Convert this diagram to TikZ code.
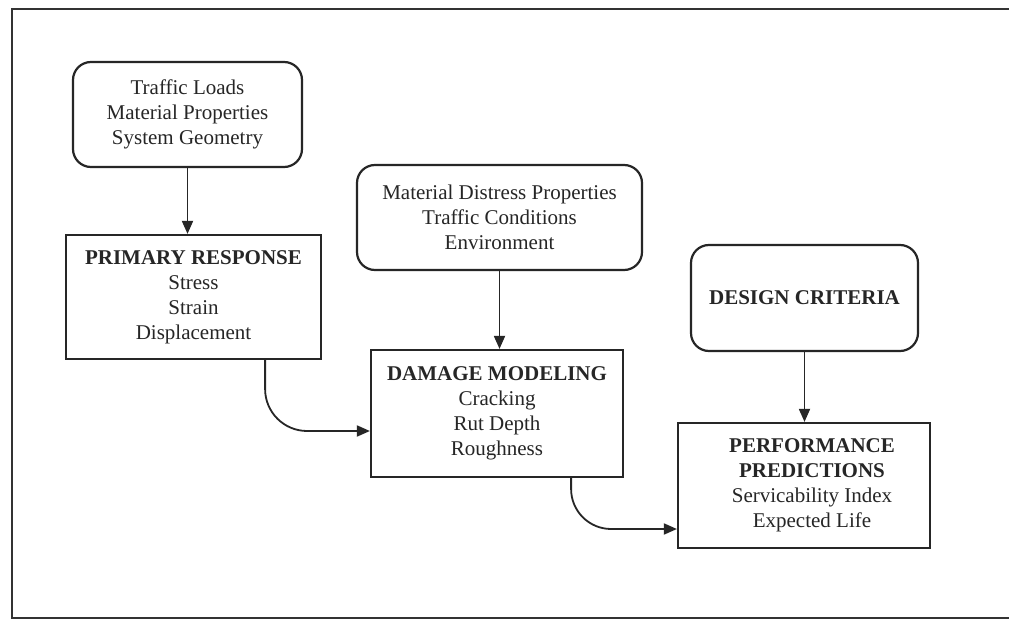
\documentclass[tikz,border=0pt]{standalone}
\usepackage{fontspec}
\setmainfont{Liberation Serif}
\usetikzlibrary{arrows.meta,calc}
\tikzset{
  ink/.style={draw=black!85, line width=2.2pt},
  inbox/.style={ink, rounded corners=18pt, align=center, inner sep=0pt,
    font=\fontsize{21}{25}\selectfont, text=black!85},
  sqbox/.style={ink, align=center, inner sep=0pt,
    font=\fontsize{21}{25}\selectfont, text=black!85},
  conn/.style={draw=black!85, line width=1.8pt, -{Triangle[length=13pt,width=11pt]}},
}
\begin{document}
\begin{tikzpicture}[x=1pt,y=-1pt]
\useasboundingbox (0,0) rectangle (1009,620);
\fill[white] (0,0) rectangle (1009,620);
% frame
\coordinate (ftr) at (1009,9);
\coordinate (ftl) at (12,9);
\coordinate (fbl) at (12,618);
\coordinate (fbr) at (1009,618);
\draw[draw=black!80, line width=2.4pt] (ftr) -- (ftl) -- (fbl) -- (fbr);

\node[inbox, minimum width=229pt, minimum height=105pt] (in1) at (187.5,114.5)
  {Traffic Loads\\Material Properties\\System Geometry};
\node[sqbox, minimum width=255pt, minimum height=124pt] (pr) at (193.5,297)
  {\textbf{PRIMARY RESPONSE}\\Stress\\Strain\\Displacement};
\node[inbox, minimum width=285pt, minimum height=105pt] (in2) at (499.5,217.5)
  {Material Distress Properties\\Traffic Conditions\\Environment};
\node[sqbox, minimum width=252pt, minimum height=127pt] (dm) at (497,413.5)
  {\textbf{DAMAGE MODELING}\\Cracking\\Rut Depth\\Roughness};
\node[inbox, minimum width=227pt, minimum height=106pt] (dc) at (804.5,298)
  {\textbf{DESIGN CRITERIA}};
\node[sqbox, minimum width=252pt, minimum height=125pt] (pp) at (804,485.5) {};
\node[align=center, inner sep=0pt, font=\fontsize{21}{25}\selectfont, text=black!85] (pptext) at (812,485.5)
  {\textbf{PERFORMANCE}\\\textbf{PREDICTIONS}\\Servicability Index\\Expected Life};

\draw[conn] (in1.south) -- (in1.south |- pr.north);
\draw[conn] (in2.south) -- (in2.south |- dm.north);
\draw[conn] (dc.south) -- (dc.south |- pp.north);
\draw[conn, rounded corners=42pt] ($(pr.south east)+(-57,0)$) |- ($(dm.west)+(0,17.5)$);
\draw[conn, rounded corners=40pt] ($(dm.south east)+(-53,0)$) |- ($(pp.west)+(0,43.5)$);
\end{tikzpicture}
\end{document}
